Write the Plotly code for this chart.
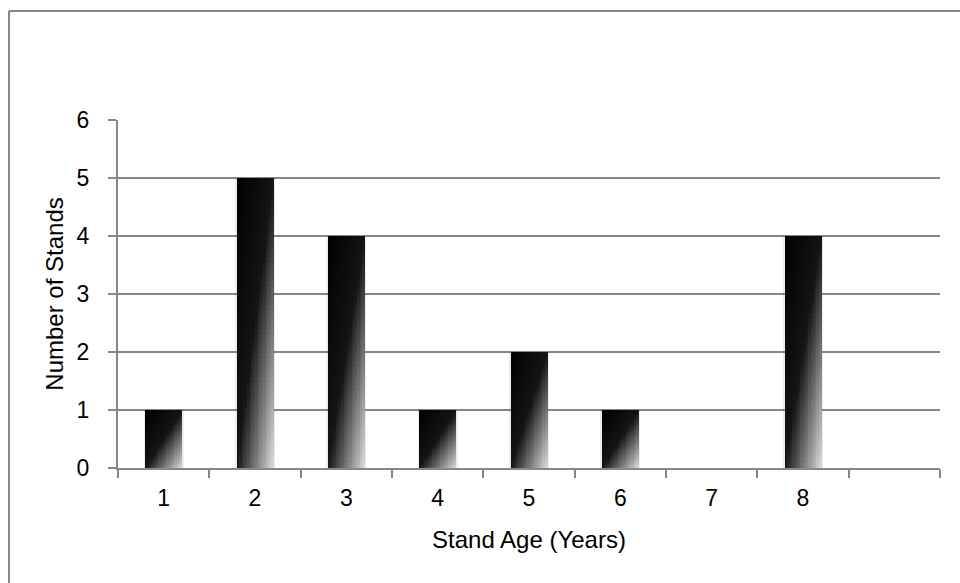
import plotly.graph_objects as go

# Stand age distribution
ages = ["1", "2", "3", "4", "5", "6", "7", "8", " "]
stands = [1, 5, 4, 1, 2, 1, 0, 4, None]

BAR_W = 0.405      # bar width as a fraction of one category
NX, NY = 14, 48    # gradient cells per bar (columns x rows)


def shade(u, v):
    """Diagonal black-to-light fill: u across the bar, v down from the top."""
    t = (u + v) / 2.0
    if t <= 0.5:
        g = 20 * (t / 0.5)
    else:
        g = 20 + (222 - 20) * ((t - 0.5) / 0.5)
    g = int(round(g))
    return f"rgb({g},{g},{g})"


cx, cy, cbase, coff, cw, ccol = [], [], [], [], [], []
for cat, val in zip(ages, stands):
    if not val:
        continue
    dh = val / NY
    for j in range(NY):
        v = 1 - (j + 0.5) / NY
        for i in range(NX):
            u = (i + 0.5) / NX
            cx.append(cat)
            cy.append(dh)
            cbase.append(j * dh)
            coff.append(-BAR_W / 2 + i * BAR_W / NX)
            cw.append(BAR_W / NX * 1.02)
            ccol.append(shade(u, v))

fig = go.Figure()

# soft shadow behind each bar
fig.add_trace(go.Bar(
    x=ages, y=stands, width=BAR_W + 0.035,
    marker=dict(color="rgba(0,0,0,0.07)", line=dict(width=0)),
    hoverinfo="skip", showlegend=False,
))

fig.add_trace(go.Bar(
    x=cx, y=cy, base=cbase, offset=coff, width=cw,
    marker=dict(color=ccol, line=dict(width=0)),
    hoverinfo="skip", showlegend=False,
))

axis_col = "#868686"
fig.update_layout(
    width=960, height=583,
    margin=dict(l=118, r=20, t=120, b=115),
    paper_bgcolor="white", plot_bgcolor="white",
    barmode="overlay", bargap=0,
    font=dict(family="Liberation Sans, Arial, sans-serif", color="black", size=23),
    xaxis=dict(
        type="category", categoryorder="array", categoryarray=ages,
        range=[-0.5, 8.5],
        tickson="boundaries", ticks="outside", ticklen=8, tickcolor=axis_col, tickwidth=2,
        ticklabelstandoff=8,
        showline=True, linecolor=axis_col, linewidth=2,
        showgrid=False, tickfont=dict(size=23),
        title=dict(text="Stand Age (Years)", font=dict(size=24), standoff=22),
    ),
    yaxis=dict(
        range=[0, 6], dtick=1, tick0=0,
        ticks="outside", ticklen=8, tickcolor=axis_col, tickwidth=2,
        ticklabelstandoff=14,
        showline=True, linecolor=axis_col, linewidth=2,
        showgrid=True, gridcolor=axis_col, gridwidth=2,
        zeroline=False, tickfont=dict(size=23),
        title=dict(text="Number of Stands", font=dict(size=24), standoff=6),
    ),
    shapes=[
        # outer chart frame (top and left edges)
        dict(type="line", xref="paper", yref="paper",
             x0=(9 - 118) / 822, x1=(960 - 118) / 822 + 0.01,
             y0=(583 - 115 - 11) / 348, y1=(583 - 115 - 11) / 348,
             line=dict(color=axis_col, width=2)),
        dict(type="line", xref="paper", yref="paper",
             x0=(9 - 118) / 822, x1=(9 - 118) / 822,
             y0=(583 - 115 - 11) / 348, y1=-(115 + 5) / 348,
             line=dict(color=axis_col, width=2)),
    ],
)

fig.write_html("out.html")
